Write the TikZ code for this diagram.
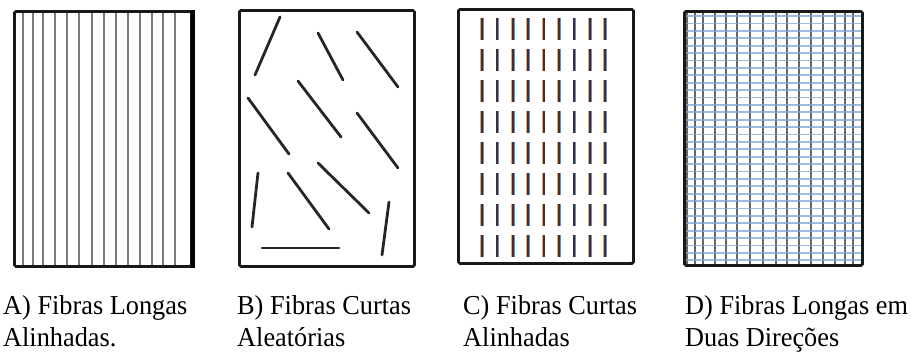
\documentclass[tikz,border=0pt]{standalone}
\usepackage{fontspec}
\setmainfont{Liberation Serif}
\usepackage{graphicx}
\begin{document}
\begin{tikzpicture}[x=1bp,y=-1bp,
  panel/.style={draw=black!90,line width=2.8bp,rounded corners=1.5bp},
  longfib/.style={draw=black!52,line width=2.4bp},
  randfib/.style={draw=black!85,line width=2.8bp,line cap=round},
  gridv/.style={draw=black!60,line width=2.6bp},
  gridh/.style={draw={rgb,255:red,125;green,165;blue,215},line width=1.8bp,opacity=.75},
  fibl/.style={draw={rgb,255:red,225;green,165;blue,100},line width=1.5bp},
  fibr/.style={draw={rgb,255:red,80;green,145;blue,225},line width=1.5bp},
  fibc/.style={draw={rgb,255:red,75;green,45;blue,40},line width=2bp},
  lbl/.style={anchor=base west,inner sep=0pt,font=\fontsize{26.3bp}{30bp}\selectfont}]
\useasboundingbox (0,0) rectangle (913,351);

% A) long aligned fibres
\foreach \x in {23,33,43,55,67,79,92,104,116,128,140,152,163,175}
  \draw[longfib] (\x,10) -- (\x,265);
\node[panel,minimum width=177bp,minimum height=255bp,anchor=north west] (pa) at (13,10) {};
\draw[line width=3.8bp] (pa.north east) -- (pa.south east);

% B) short random fibres
\node[panel,minimum width=175bp,minimum height=256bp,anchor=north west] (pb) at (238,9) {};
\foreach \a/\b/\c/\d in {280/17/255/75, 318/33/343/80, 357/32/398/87,
  298/81/341/137, 248/98/289/154, 357/113/398/168, 258/173/252/227,
  288/173/329/229, 318/163/369/213, 389/202/382/255, 262/248/339/248}
  \draw[randfib] (\a,\b) -- (\c,\d);

% C) short aligned fibres
\node[panel,minimum width=175bp,minimum height=254bp,anchor=north west] (pc) at (457,8) {};
\foreach \i in {0,...,8}
  \foreach \j in {0,...,7}{
    \pgfmathsetmacro\xx{482+15.4*\i}
    \pgfmathsetmacro\yy{18+31*\j}
    \draw[fibl] (\xx-1.1,\yy) -- ++(0,22);
    \draw[fibr] (\xx+1.1,\yy) -- ++(0,22);
    \draw[fibc] (\xx,\yy) -- ++(0,22);
  }

% D) long fibres in two directions
\foreach \x in {687,695,703,715,726,737,750,763,776,787,799,811,823,835,845,853}
  \draw[gridv] (\x,10) -- (\x,264);
\foreach \j in {0,...,33}
  \draw[gridh] (683,{16+7.4*\j}) -- (861,{16+7.4*\j});
\node[panel,minimum width=178bp,minimum height=254bp,anchor=north west] (pd) at (683,10) {};

% captions
\node[lbl] (a1) at (3,314) {\scalebox{1}[1.04]{A) Fibras Longas}};
\node[lbl] (a2) at (3,346) {\scalebox{1}[1.04]{Alinhadas.}};
\node[lbl] (b1) at (237,314) {\scalebox{1}[1.04]{B) Fibras Curtas}};
\node[lbl] (b2) at (237,346) {\scalebox{1}[1.04]{Aleatórias}};
\node[lbl] (c1) at (463,314) {\scalebox{1}[1.04]{C) Fibras Curtas}};
\node[lbl] (c2) at (463,346) {\scalebox{1}[1.04]{Alinhadas}};
\node[lbl] (d1) at (685,314) {\scalebox{1}[1.04]{D) Fibras Longas em}};
\node[lbl] (d2) at (685,346) {\scalebox{1}[1.04]{Duas Direções}};
\end{tikzpicture}
\end{document}
